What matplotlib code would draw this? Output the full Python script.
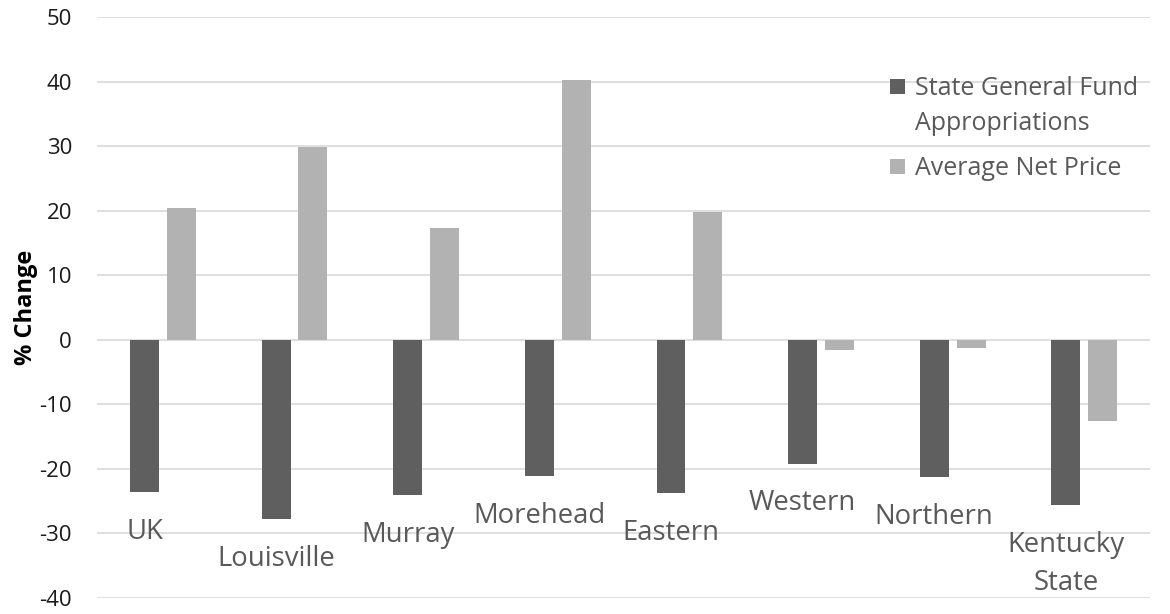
import matplotlib
matplotlib.use("Agg")
import matplotlib.pyplot as plt
import numpy as np
from matplotlib.patches import Rectangle

plt.rcParams['font.family'] = ['Open Sans', 'DejaVu Sans']
plt.rcParams['axes.unicode_minus'] = False

schools = ["UK", "Louisville", "Murray", "Morehead", "Eastern",
           "Western", "Northern", "Kentucky\nState"]
appropriations = [-23.6, -27.8, -24.1, -21.1, -23.7, -19.2, -21.3, -25.6]
net_price = [20.4, 29.9, 17.3, 40.3, 19.8, -1.5, -1.2, -12.6]
series_names = ["State General Fund\nAppropriations", "Average Net Price"]

dark = "#5f5f5f"
light = "#b2b2b2"
text_col = "#595959"

W, H = 1170, 614
fig = plt.figure(figsize=(W / 100, H / 100), dpi=100)
ax = fig.add_axes([0.083, 0.026, 0.9, 0.946])

x = np.arange(len(schools))
w = 0.22
off = 0.14
ax.bar(x - off, appropriations, width=w, color=dark, zorder=3)
ax.bar(x + off, net_price, width=w, color=light, zorder=3)

ax.set_xlim(-0.5, len(schools) - 0.5)
ax.set_ylim(-40, 50)
ax.set_yticks(np.arange(-40, 51, 10))
ax.set_xticks([])
ax.grid(axis="y", color="#d9d9d9", linewidth=1.2, zorder=0)
for s in ax.spines.values():
    s.set_visible(False)
ax.tick_params(axis="y", length=0, labelsize=16, labelcolor="#1a1a1a", pad=18)

ax.set_ylabel("% Change", fontsize=17, fontweight="bold", color="black")
ax.yaxis.set_label_coords(-0.056, 0.5)

# school names hang just below each appropriations bar
for xi, name, v in zip(x, schools, appropriations):
    ax.annotate(name, xy=(xi - off, v), xytext=(0, -18.5),
                textcoords="offset points", ha="center", va="top",
                fontsize=19.8, color=text_col, linespacing=1.47, zorder=4)

# legend: colour square beside the first line of each entry
def fx(px):
    return px / W

def fy(px):
    return 1 - px / H

line_step = 35
entries = [(series_names[0], dark, 95), (series_names[1], light, 175)]
for label, col, base in entries:
    fig.add_artist(Rectangle((fx(890), fy(base - 1)), fx(15), 15 / H,
                             transform=fig.transFigure, facecolor=col,
                             edgecolor="none"))
    for i, line in enumerate(label.split("\n")):
        fig.text(fx(915), fy(base + i * line_step), line, ha="left",
                 va="baseline", fontsize=18, color=text_col)

fig.savefig("out.png", dpi=100)
